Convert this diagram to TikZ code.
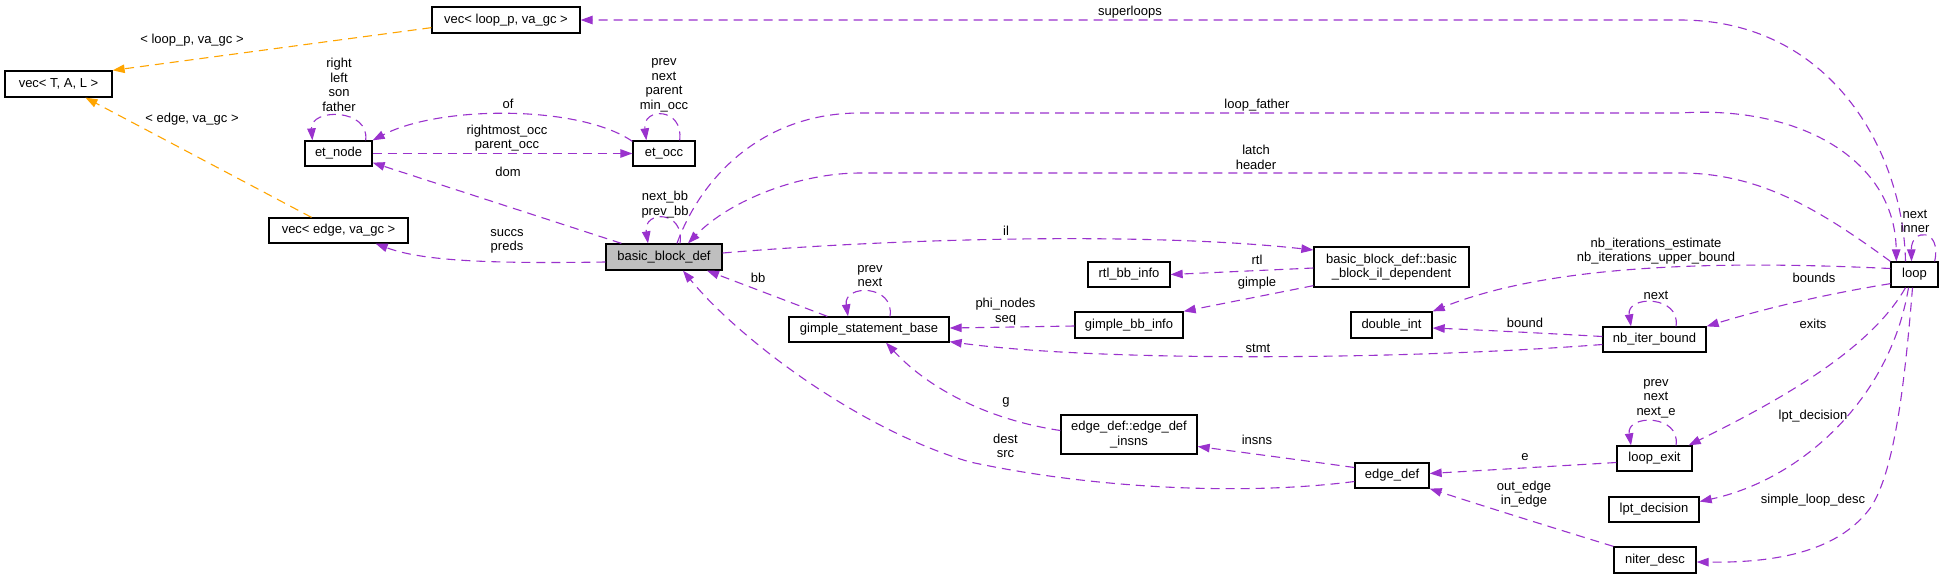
\documentclass[tikz,border=0pt]{standalone}
\usepackage{fontspec}
\setmainfont{Liberation Sans}
\usetikzlibrary{arrows.meta,calc}
\definecolor{edgepurple}{RGB}{154,50,205}
\definecolor{edgeorange}{RGB}{255,165,0}
\definecolor{rootgrey}{RGB}{191,191,191}
\begin{document}
\begin{tikzpicture}[x=1pt,y=-1pt,
  every node/.style={font=\fontsize{13}{14.5}\selectfont},
  box/.style={draw=black, line width=1.3pt, fill=white, inner sep=0pt, align=center},
  root/.style={box, fill=rootgrey},
  lbl/.style={inner sep=0pt, align=center},
  usage/.style={draw=edgepurple, line width=1.1pt, dash pattern=on 9pt off 6pt,
    -{Triangle[length=12pt,width=8.5pt]}, edgepurple},
  templ/.style={draw=edgeorange, line width=1.1pt, dash pattern=on 9pt off 6pt,
    -{Triangle[length=12pt,width=8.5pt]}, edgeorange}]
\useasboundingbox (0,0) rectangle (1944,579);
\fill[white] (0,0) rectangle (1944,579);

% nodes
\node[box, minimum width=148, minimum height=26] (vlp) at (506,20) {vec< loop\_p, va\_gc >};
\node[box, minimum width=107, minimum height=26] (vtal) at (58.5,84) {vec< T, A, L >};
\node[box, minimum width=67, minimum height=25] (etn) at (338.5,153.5) {et\_node};
\node[box, minimum width=139, minimum height=25] (vedge) at (338.5,230.5) {vec< edge, va\_gc >};
\node[root, minimum width=116, minimum height=26] (bbd) at (664,257) {basic\_block\_def};
\node[box, minimum width=62, minimum height=25] (eto) at (664,153.5) {et\_occ};
\node[box, minimum width=82, minimum height=25] (rtl) at (1129,274.5) {rtl\_bb\_info};
\node[box, minimum width=160, minimum height=25] (gsb) at (869,329.5) {gimple\_statement\_base};
\node[box, minimum width=108, minimum height=26] (gbb) at (1129,325) {gimple\_bb\_info};
\node[box, minimum width=136, minimum height=39] (insns) at (1129,434.5) {edge\_def::edge\_def\\\_insns};
\node[box, minimum width=155, minimum height=40] (bbil) at (1391.5,267) {basic\_block\_def::basic\\\_block\_il\_dependent};
\node[box, minimum width=47, minimum height=25] (loop) at (1914.5,274.5) {loop};
\node[box, minimum width=81, minimum height=26] (dint) at (1391.5,325) {double\_int};
\node[box, minimum width=103, minimum height=25] (nib) at (1654.5,339.5) {nb\_iter\_bound};
\node[box, minimum width=75, minimum height=25] (lexit) at (1654.5,458.5) {loop\_exit};
\node[box, minimum width=74, minimum height=25] (edef) at (1392,475.5) {edge\_def};
\node[box, minimum width=90, minimum height=25] (lptd) at (1654,509.5) {lpt\_decision};
\node[box, minimum width=82, minimum height=26] (nd) at (1655,560) {niter\_desc};

% template edges
\draw[templ] ($(vlp.south west)+(0,-6)$) -- (vtal.north east);
\draw[templ] ($(vedge.north)+(-27,0)$) -- ($(vtal.south)+(27,0)$);

% usage edges
\draw[usage] ($(bbd.west)+(0,5)$) .. controls (480,264) and (420,260) .. ($(vedge.south east)+(-33,0)$);
\draw[usage] ($(bbd.north west)+(16,0)$) -- ($(etn.south east)+(0,-4)$);
\draw[usage] (etn.east) -- (eto.west);
\draw[usage] ($(eto.north west)+(0,1)$) .. controls (580,105) and (440,105) .. (etn.north east);
\draw[usage] ($(etn.north east)+(-7,0)$) .. controls (370,108) and (310,108) .. ($(etn.north west)+(8,0)$);
\draw[usage] ($(eto.north east)+(-16,0)$) .. controls (684,107) and (642,107) .. ($(eto.north west)+(14,0)$);
\draw[usage] ($(bbd.north)+(16,0)$) .. controls (685,210) and (643,210) .. ($(bbd.north)+(-16,0)$);
\draw[usage] ($(loop.north)+(-9,0)$) .. controls (1903,150) and (1830,20) .. (1680,20) -- (vlp.east);
\draw[usage] ($(bbd.north)+(13,0)$) .. controls (700,180) and (760,113) .. (860,113) -- (1680,113)
   .. controls (1800,105) and (1895,160) .. ($(loop.north west)+(6,0)$);
\draw[usage] (loop.north west) .. controls (1820,210) and (1760,173) .. (1680,173) -- (860,173)
   .. controls (800,173) and (730,200) .. ($(bbd.north)+(24,0)$);
\draw[usage] ($(bbd.east)+(0,-4)$) .. controls (900,238) and (1150,232) .. ($(bbil.west)+(0,-17)$);
\draw[usage] ($(bbil.west)+(0,1)$) -- (rtl.east);
\draw[usage] ($(bbil.south west)+(0,-2)$) -- (gbb.north east);
\draw[usage] ($(gbb.west)+(0,1)$) -- ($(gsb.east)+(0,-1.5)$);
\draw[usage] ($(nib.west)+(0,5)$) .. controls (1400,360) and (1100,362) .. ($(gsb.south east)+(0,-1)$);
\draw[usage] ($(gsb.north west)+(39,0)$) -- ($(bbd.south)+(43,0)$);
\draw[usage] ($(gsb.north)+(21,0)$) .. controls (895,284) and (843,284) .. ($(gsb.north)+(-21,0)$);
\draw[usage] ($(insns.west)+(0,-4)$) .. controls (990,420) and (930,390) .. ($(gsb.south)+(17,0)$);
\draw[usage] ($(edef.west)+(0,6)$) .. controls (1250,495) and (1100,490) .. (970,462)
   .. controls (860,430) and (740,340) .. ($(bbd.south)+(19,0)$);
\draw[usage] ($(edef.west)+(0,-8)$) .. controls (1300,460) and (1240,452) .. ($(insns.east)+(0,12)$);
\draw[usage] ($(loop.west)+(0,-6)$) .. controls (1750,262) and (1560,260) .. (dint.north east);
\draw[usage] ($(loop.south west)+(0,-4)$) .. controls (1820,295) and (1760,310) .. (nib.north east);
\draw[usage] ($(nib.west)+(0,-3)$) .. controls (1540,333) and (1480,330) .. ($(dint.east)+(0,3)$);
\draw[usage] ($(nib.north)+(21.5,0)$) .. controls (1681,295) and (1626,295) .. ($(nib.north)+(-23.5,0)$);
\draw[usage] ($(loop.south)+(-9,0)$) .. controls (1870,350) and (1780,400) .. ($(lexit.north east)+(-4,0)$);
\draw[usage] ($(lexit.north)+(21.5,0)$) .. controls (1681,414) and (1626,414) .. ($(lexit.north)+(-23.5,0)$);
\draw[usage] ($(lexit.west)+(0,4)$) -- ($(edef.east)+(0,-2)$);
\draw[usage] ($(loop.south)+(-6,0)$) .. controls (1890,400) and (1800,480) .. ($(lptd.east)+(0,-8)$);
\draw[usage] ($(loop.south)+(-2,0)$) .. controls (1905,380) and (1895,470) .. (1871,507)
   .. controls (1840,550) and (1780,563) .. ($(nd.east)+(0,2)$);
\draw[usage] (nd.north west) .. controls (1560,530) and (1480,505) .. (edef.south east);
\draw[usage] ($(loop.north east)+(-4,0)$) .. controls (1942,228) and (1911,228) .. ($(loop.north)+(-3,0)$);

% labels
\node[lbl] (l1) at (192,40) {< loop\_p, va\_gc >};
\node[lbl] (l2) at (192,119) {< edge, va\_gc >};
\node[lbl] (l3) at (339,85) {right\\left\\son\\father};
\node[lbl] (l4) at (508,104) {of};
\node[lbl] (l5) at (507,138) {rightmost\_occ\\parent\_occ};
\node[lbl] (l6) at (508,172) {dom};
\node[lbl] (l7) at (507,241.5) {succs\\preds};
\node[lbl] (l8) at (664,85.5) {prev\\next\\parent\\min\_occ};
\node[lbl] (l9) at (1130,12) {superloops};
\node[lbl] (l10) at (1257,105) {loop\_father};
\node[lbl] (l11) at (1256,157.5) {latch\\header};
\node[lbl] (l12) at (665,204.5) {next\_bb\\prev\_bb};
\node[lbl] (l13) at (1006,231) {il};
\node[lbl] (l14) at (1257,260) {rtl};
\node[lbl] (l15) at (1257,283) {gimple};
\node[lbl] (l16) at (758,278) {bb};
\node[lbl] (l17) at (870,276) {prev\\next};
\node[lbl] (l18) at (1005.5,311.5) {phi\_nodes\\seq};
\node[lbl] (l19) at (1258,348) {stmt};
\node[lbl] (l20) at (1006,402) {g};
\node[lbl] (l21) at (1257,440) {insns};
\node[lbl] (l22) at (1005.5,446) {dest\\src};
\node[lbl] (l23) at (1915,221.5) {next\\inner};
\node[lbl] (l24) at (1656,251) {nb\_iterations\_estimate\\nb\_iterations\_upper\_bound};
\node[lbl] (l25) at (1814,278) {bounds};
\node[lbl] (l26) at (1656,295) {next};
\node[lbl] (l27) at (1525,323) {bound};
\node[lbl] (l28) at (1813,324) {exits};
\node[lbl] (l29) at (1656,398.5) {prev\\next\\next\_e};
\node[lbl] (l30) at (1813,416) {lpt\_decision};
\node[lbl] (l31) at (1525,457) {e};
\node[lbl] (l32) at (1524,494) {out\_edge\\in\_edge};
\node[lbl] (l33) at (1813,500) {simple\_loop\_desc};
\end{tikzpicture}
\end{document}
